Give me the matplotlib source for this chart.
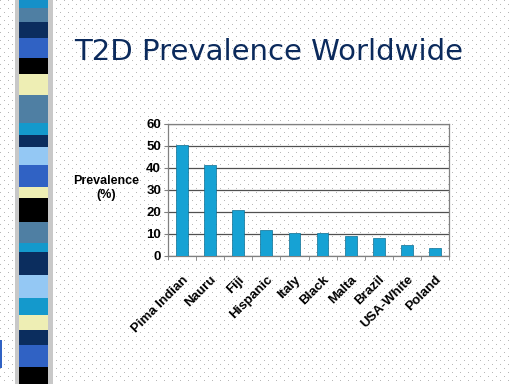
import matplotlib.pyplot as plt
from matplotlib.patches import Rectangle
import numpy as np

countries = ["Pima Indian", "Nauru", "Fiji", "Hispanic", "Italy", "Black",
             "Malta", "Brazil", "USA-White", "Poland"]
prevalence = [50.3, 41.3, 20.8, 11.8, 10.3, 10.3, 8.8, 8.0, 4.9, 3.4]
yticks = [0, 10, 20, 30, 40, 50, 60]

# decorative stripe on the left: (top, bottom, colour)
stripe = [(0, 8, "#1690c8"), (8, 22, "#4f7fa3"), (22, 38, "#0b2d5e"),
          (38, 58, "#3062c4"), (58, 74, "#000000"), (74, 95, "#eeeeb4"),
          (95, 123, "#4f7fa3"), (123, 135, "#1499cc"), (135, 147, "#0b2d5e"),
          (147, 165, "#94c8f4"), (165, 187, "#3062c4"), (187, 198, "#eeeeb4"),
          (198, 222, "#000000"), (222, 243, "#4f7fa3"), (243, 252, "#1499cc"),
          (252, 275, "#0b2d5e"), (275, 298, "#94c8f4"), (298, 315, "#1499cc"),
          (315, 330, "#eeeeb4"), (330, 345, "#0b2d5e"), (345, 367, "#3062c4"),
          (367, 384, "#000000")]

W, H = 512, 384
fig = plt.figure(figsize=(5.12, 3.84), dpi=100)
fig.patch.set_facecolor("white")

# dotted slide background
bg = np.ones((H, W, 3))
yy, xx = np.mgrid[0:H, 0:W]
dots = ((xx % 8 == 0) & (yy % 8 == 0)) | ((xx % 8 == 4) & (yy % 8 == 4))
bg[dots] = 0.72
fig.figimage(bg, 0, 0, zorder=-10)

# stripe with a grey shadow
fig.patches.append(Rectangle((15 / W, 0), 38 / W, 1, transform=fig.transFigure,
                             facecolor="#c8c8c8", edgecolor="none", zorder=1))
for top, bot, c in stripe:
    fig.patches.append(Rectangle((19 / W, 1 - bot / H), 29 / W, (bot - top) / H,
                                 transform=fig.transFigure, facecolor=c,
                                 edgecolor="none", zorder=2))
fig.patches.append(Rectangle((0, 1 - 368 / H), 2 / W, 28 / H, transform=fig.transFigure,
                             facecolor="#3062c4", edgecolor="none", zorder=2))

fig.text(269 / W, 1 - 52 / H, "T2D Prevalence Worldwide", ha="center", va="center",
         fontsize=21, color="#0b2a5c", family="DejaVu Sans")

ax = fig.add_axes([168 / W, 1 - 255.5 / H, 281 / W, 131.5 / H])
ax.set_zorder(5)
ax.patch.set_alpha(0)
x = np.arange(len(countries))
ax.bar(x, prevalence, width=0.42, color="#16a2d4", edgecolor="#0d6f94",
       linewidth=0.5, zorder=3)
ax.set_xlim(-0.5, len(countries) - 0.5)
ax.set_ylim(0, 60)
ax.set_yticks(yticks)
ax.yaxis.grid(True, color="#505050", linewidth=0.9)
ax.set_axisbelow(True)
for s in ax.spines.values():
    s.set_color("#808080")
    s.set_linewidth(0.9)
ax.set_xticks(x)
ax.set_xticks(np.arange(len(countries) + 1) - 0.5, minor=True)
ax.set_xticklabels(countries, rotation=45, ha="right", rotation_mode="anchor",
                   fontsize=9.5, fontweight="bold", family="Liberation Sans")
ax.tick_params(axis="x", which="major", length=0, pad=13)
ax.tick_params(axis="x", which="minor", length=3, color="#808080")
ax.tick_params(axis="y", length=3, color="#808080", labelsize=9.5, pad=2)
for t in ax.get_yticklabels():
    t.set_fontweight("bold")
    t.set_family("Liberation Sans")

fig.text(106 / W, 1 - 188 / H, "Prevalence\n(%)", ha="center", va="center",
         fontsize=9, fontweight="bold", linespacing=1.2, family="Liberation Sans")

fig.savefig("out.png", dpi=100)
